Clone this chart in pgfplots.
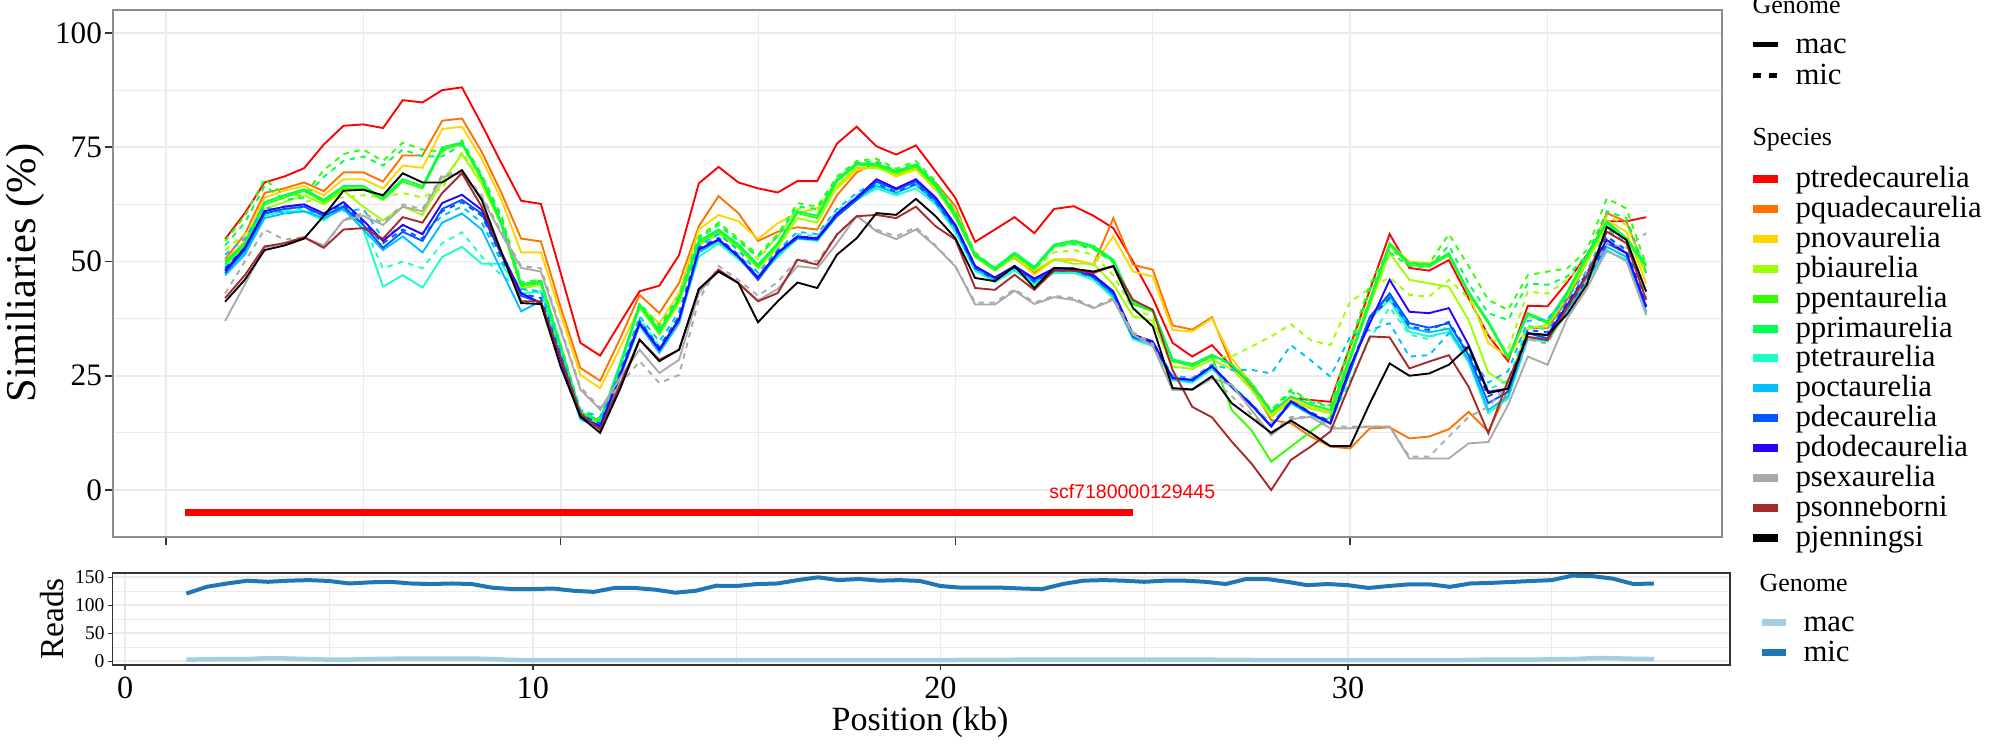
\documentclass[border=0pt]{standalone}
\usepackage{fontspec}
\setmainfont{Liberation Serif}
\newfontfamily\sansf{Liberation Sans}
\usepackage{pgfplots}
\usepackage{pgfplotstable}
\pgfplotsset{compat=1.18}

\definecolor{ctre}{HTML}{FF0000}
\definecolor{cqua}{HTML}{FF7200}
\definecolor{cnov}{HTML}{FFD500}
\definecolor{cbia}{HTML}{9EFF00}
\definecolor{cpen}{HTML}{33FF00}
\definecolor{cpri}{HTML}{00FF50}
\definecolor{ctet}{HTML}{1AFFC8}
\definecolor{coct}{HTML}{00C0FF}
\definecolor{cdec}{HTML}{0055FF}
\definecolor{cdod}{HTML}{2A00FF}
\definecolor{csex}{HTML}{AAAAAA}
\definecolor{cson}{HTML}{A52A2A}
\definecolor{cjen}{HTML}{000000}
\definecolor{macc}{HTML}{A6CEE3}
\definecolor{micc}{HTML}{1F78B4}
\definecolor{gridc}{HTML}{EBEBEB}
\definecolor{bordc}{HTML}{8C8C8C}

% similarity (%) per species, one row per species, one column per position (kb)
\pgfplotstableread[row sep=\\]{
sp 1.5 2.0 2.5 3.0 3.5 4.0 4.5 5.0 5.5 6.0 6.5 7.0 7.5 8.0 8.5 9.0 9.5 10.0 10.5 11.0 11.5 12.0 12.5 13.0
 13.5 14.0 14.5 15.0 15.5 16.0 16.5 17.0 17.5 18.0 18.5 19.0 19.5 20.0 20.5 21.0 21.5 22.0 22.5 23.0 23.5 24.0 24.5 25.0
 25.5 26.0 26.5 27.0 27.5 28.0 28.5 29.0 29.5 30.0 30.5 31.0 31.5 32.0 32.5 33.0 33.5 34.0 34.5 35.0 35.5 36.0 36.5 37.0 37.5 \\
tre 54.9 60.6 67.3 68.6 70.4 75.6 79.7 80.0 79.2 85.3 84.8 87.5 88.1 80.0 71.5 63.3 62.6 47.5 32.2 29.4 36.5 43.5 44.7 51.4
 67.1 70.7 67.3 66.0 65.1 67.6 67.6 75.8 79.5 75.2 73.4 75.4 69.7 63.9 54.3 57.0 59.7 56.2 61.5 62.1 60.0 57.3 50.0 42.0
 32.2 29.2 31.7 27.0 23.3 17.1 20.1 19.7 19.3 31.5 43.8 56.0 48.6 48.0 50.3 42.0 33.8 28.2 40.3 40.2 45.5 51.5 58.8 58.8 59.7 \\
qua 50.5 56.0 65.0 66.0 67.3 65.4 69.5 69.5 67.5 73.2 73.2 80.8 81.3 74.0 65.0 55.0 54.4 40.0 26.7 23.9 33.0 42.7 38.7 45.3
 57.7 64.3 60.6 54.5 56.5 57.5 57.0 64.5 69.5 71.6 69.0 70.7 67.2 62.1 51.1 48.6 50.8 47.5 50.4 50.4 49.3 59.5 49.3 48.2
 36.0 35.1 37.8 27.5 22.6 15.3 14.6 11.7 9.5 9.1 13.5 13.7 11.3 11.7 13.3 17.1 12.8 22.0 35.4 35.4 41.6 50.0 60.6 58.7 47.5 \\
nov 50.0 54.5 64.0 65.5 66.5 64.5 68.0 68.0 66.0 71.0 70.5 79.0 79.5 72.5 63.5 52.0 52.0 38.5 25.2 22.3 31.0 40.2 36.5 43.1
 57.0 60.2 58.8 54.9 58.4 60.6 61.7 66.0 70.0 70.8 68.6 70.1 65.7 61.3 51.5 48.4 51.1 47.1 50.4 50.4 49.3 55.5 47.8 46.7
 35.0 34.7 37.5 28.8 23.3 16.4 20.0 18.2 17.1 30.0 42.0 54.0 50.0 49.6 51.6 43.0 32.1 29.2 35.4 36.1 43.0 50.5 59.0 56.5 45.2 \\
bia 49.0 53.0 61.5 63.0 64.5 62.5 65.5 62.0 59.0 62.0 60.2 67.5 73.5 67.0 58.0 44.0 45.0 31.0 16.5 14.7 27.0 40.0 34.0 41.0
 53.5 56.0 53.0 48.5 53.0 59.5 58.5 66.5 70.5 70.5 69.0 70.5 66.0 59.5 51.0 48.0 51.0 48.0 50.5 49.5 49.5 45.0 38.0 37.0
 27.0 26.5 28.5 26.5 22.0 16.0 19.5 17.8 16.8 29.0 40.5 51.8 46.0 45.2 44.5 37.2 25.7 23.0 35.4 36.1 42.5 50.0 57.5 55.0 47.5 \\
pen 49.5 53.5 62.5 64.0 65.5 63.0 66.0 66.0 63.5 67.5 66.0 74.5 75.7 68.0 58.0 44.6 45.3 31.0 16.5 14.7 27.0 40.2 34.4 41.6
 54.0 56.6 53.3 48.9 53.7 60.6 59.5 67.5 71.2 71.0 69.4 70.8 66.4 59.9 51.1 48.2 51.5 48.4 53.3 54.2 53.0 50.1 40.6 39.1
 28.2 27.1 29.2 17.5 13.1 6.2 9.5 12.8 16.0 28.5 41.0 53.6 49.2 48.9 51.4 43.0 36.5 28.8 38.3 36.5 43.0 51.0 58.4 54.7 48.9 \\
pri 50.0 54.0 63.0 64.5 65.8 63.5 66.5 66.5 64.0 68.0 66.5 75.0 76.0 68.5 58.5 45.0 45.8 31.5 17.0 15.2 27.5 40.6 34.8 42.0
 54.5 57.0 53.8 49.3 54.0 61.0 60.0 68.0 71.5 71.3 69.8 71.2 66.8 60.3 51.5 48.6 51.9 48.8 53.7 54.6 53.4 50.4 41.0 39.5
 28.6 27.5 29.6 27.5 23.0 17.0 20.5 18.7 17.5 29.0 41.5 54.0 49.6 49.3 51.8 43.4 36.9 29.2 38.7 36.9 43.4 51.4 58.8 55.1 49.3 \\
tet 48.0 52.0 60.0 61.0 61.0 59.0 62.0 57.0 44.5 47.0 44.3 51.0 53.2 49.5 49.5 43.0 43.5 29.5 16.0 14.0 25.0 37.0 31.0 37.5
 51.0 54.0 50.5 46.5 51.0 55.0 54.5 60.0 63.5 66.0 64.5 66.0 62.5 56.5 48.0 45.5 48.0 45.0 47.5 47.5 46.0 42.0 33.0 31.5
 24.0 23.5 26.5 22.5 18.5 14.0 19.0 16.5 14.5 26.0 37.5 41.6 34.6 33.6 34.6 28.0 16.8 20.0 33.0 32.5 39.0 45.5 52.2 50.5 38.7 \\
oct 47.0 51.5 59.5 60.5 61.0 59.5 61.5 57.0 52.5 55.5 52.0 58.5 60.5 57.0 48.0 39.1 41.3 28.5 15.5 13.5 24.5 36.0 30.0 36.5
 52.0 54.5 51.0 46.0 51.5 55.5 55.0 60.5 64.0 66.5 65.0 66.8 63.0 57.2 48.5 46.0 48.8 45.5 48.0 48.0 46.5 42.5 33.3 32.0
 24.3 23.8 27.0 22.5 18.5 14.0 19.0 16.5 14.5 26.5 38.0 42.5 35.5 34.5 35.3 28.5 17.5 20.5 33.5 33.0 39.5 46.0 53.2 51.0 39.0 \\
dec 47.5 52.5 60.5 61.5 62.0 60.0 62.0 58.0 53.0 56.5 54.5 61.5 63.5 60.5 51.5 42.5 41.0 29.0 16.0 14.0 25.0 36.5 30.7 37.3
 52.6 54.8 51.1 46.0 51.9 55.1 54.8 59.9 63.5 67.5 65.7 67.5 63.5 57.7 48.9 46.4 49.0 46.0 48.2 48.2 46.7 43.1 33.6 32.2
 24.5 24.1 27.1 22.7 18.7 13.9 19.4 16.8 14.6 26.0 37.9 43.0 36.5 35.5 36.5 29.5 19.0 21.5 34.3 33.2 40.0 46.0 54.0 51.8 40.0 \\
dod 48.0 53.0 61.0 62.0 62.5 60.5 63.0 59.0 54.5 58.0 56.0 62.8 64.6 61.3 52.0 43.1 40.9 28.5 16.1 13.9 25.0 36.5 30.7 37.3
 52.6 54.8 51.1 46.5 51.9 55.5 55.0 60.5 64.0 68.0 66.0 68.0 64.0 58.0 49.0 46.5 49.0 46.3 48.5 48.5 47.0 43.5 34.0 32.5
 24.5 24.1 27.1 22.7 18.7 13.9 19.4 16.8 14.6 27.0 36.5 46.0 39.0 38.7 39.8 31.7 21.5 22.2 34.3 33.9 40.5 47.0 54.7 51.8 40.1 \\
sex 37.0 45.0 53.0 54.0 55.3 53.5 59.0 60.0 58.0 62.0 61.0 68.5 69.3 64.0 56.0 48.6 47.8 35.0 22.0 17.6 24.5 30.7 25.6 28.5
 43.1 48.2 45.3 41.5 44.0 49.0 48.5 54.0 60.0 56.6 54.9 57.0 53.3 48.9 40.6 40.6 43.6 40.7 42.2 41.6 39.8 41.6 34.0 31.5
 21.9 21.9 24.4 23.0 17.5 12.0 15.5 16.0 13.5 13.5 13.9 13.9 6.9 6.9 6.9 10.2 10.5 18.6 29.2 27.4 37.6 44.1 52.5 50.0 38.3 \\
son 42.0 47.0 53.3 54.0 55.3 53.0 57.0 57.3 55.0 59.7 58.5 65.0 69.3 62.0 52.0 41.3 41.3 29.0 16.8 13.2 23.0 32.9 28.5 30.7
 43.8 48.2 45.3 41.3 43.1 50.4 49.3 55.9 59.9 60.2 59.5 62.0 57.7 54.8 44.2 43.8 47.1 43.8 48.0 48.0 47.5 49.0 41.6 39.4
 26.3 18.2 15.9 10.6 5.8 0.0 6.6 9.5 12.8 23.3 33.6 33.4 26.6 28.1 29.5 22.6 12.4 24.0 33.5 32.8 40.0 47.0 56.5 54.0 41.6 \\
jen 41.2 46.0 52.5 53.5 55.0 60.0 65.5 65.7 64.5 69.3 67.3 67.3 70.0 63.5 52.0 40.9 40.7 27.0 16.1 12.5 22.0 32.9 28.2 30.7
 44.0 47.8 45.3 36.7 41.3 45.4 44.2 51.5 55.1 60.6 60.2 63.7 59.9 55.1 46.4 45.7 49.0 44.2 48.6 48.4 47.8 49.0 39.8 35.8
 22.3 22.0 24.9 19.0 15.8 12.5 15.2 12.5 9.6 9.6 19.0 27.7 25.0 25.5 27.4 31.4 21.2 22.2 34.3 33.9 38.5 45.0 57.6 54.7 43.4 \\
}\macraw

\pgfplotstableread[row sep=\\]{
sp 1.5 2.0 2.5 3.0 3.5 4.0 4.5 5.0 5.5 6.0 6.5 7.0 7.5 8.0 8.5 9.0 9.5 10.0 10.5 11.0 11.5 12.0 12.5 13.0
 13.5 14.0 14.5 15.0 15.5 16.0 16.5 17.0 17.5 18.0 18.5 19.0 19.5 20.0 20.5 21.0 21.5 22.0 22.5 23.0 23.5 24.0 24.5 25.0
 25.5 26.0 26.5 27.0 27.5 28.0 28.5 29.0 29.5 30.0 30.5 31.0 31.5 32.0 32.5 33.0 33.5 34.0 34.5 35.0 35.5 36.0 36.5 37.0 37.5 \\
bia 52.5 56.0 61.0 61.0 63.0 64.0 64.0 64.5 64.0 65.0 64.0 66.0 74.0 67.5 58.5 45.0 45.5 31.5 17.0 15.0 27.0 40.5 35.0 42.0
 55.0 58.5 55.0 50.5 55.5 61.5 61.0 68.0 71.5 71.5 69.5 71.0 66.5 60.0 51.5 48.2 51.5 48.5 52.0 52.5 51.5 47.0 39.5 38.0
 28.0 27.7 29.0 29.2 31.4 33.6 36.3 32.8 31.7 41.2 44.1 46.5 42.7 42.3 46.0 42.0 33.6 30.6 43.4 43.0 46.0 50.5 60.0 58.0 48.0 \\
pen 54.5 60.0 68.0 64.5 64.5 70.0 73.5 74.5 72.0 76.0 74.5 74.0 76.5 69.0 60.0 45.5 46.0 32.0 17.5 15.5 27.0 41.0 36.0 42.5
 55.5 58.5 55.0 51.5 56.0 62.8 62.0 68.6 72.0 72.5 70.3 72.0 67.5 61.0 52.0 48.5 52.0 48.6 53.5 54.0 53.0 50.0 41.0 39.5
 28.5 27.5 29.5 27.5 23.5 17.5 22.0 19.5 18.5 32.0 45.0 52.8 49.8 49.5 56.0 49.0 41.6 39.4 47.0 47.8 48.5 52.5 63.8 61.6 49.2 \\
pri 53.5 58.5 66.5 63.5 64.0 68.5 72.0 73.0 71.0 74.5 73.0 73.0 75.5 68.5 59.5 45.0 45.5 31.5 17.0 15.0 27.0 40.5 35.5 42.0
 55.0 58.0 54.5 51.0 55.5 62.0 61.5 68.0 71.5 72.0 69.8 71.5 67.0 60.5 51.5 48.2 51.6 48.3 53.2 53.8 52.7 49.8 40.8 39.3
 28.3 27.3 29.3 27.3 23.2 17.2 21.5 19.2 18.2 31.0 44.0 52.0 49.0 48.7 53.5 45.2 38.7 37.2 45.2 44.9 46.7 51.5 61.0 59.5 47.5 \\
tet 49.0 53.0 60.5 61.5 61.5 60.0 62.5 58.0 48.5 50.0 48.5 54.0 56.4 51.1 47.0 44.0 43.0 30.0 16.5 14.5 25.5 37.5 31.5 38.0
 52.0 55.0 51.5 47.0 51.5 56.0 55.5 61.0 64.5 67.0 65.0 66.8 63.0 57.0 48.5 46.0 48.5 45.5 48.0 48.0 46.5 42.5 33.5 32.0
 24.5 24.0 27.0 23.0 19.0 14.5 19.5 17.0 15.0 24.0 33.0 40.0 34.0 33.0 36.0 30.0 22.0 24.0 36.0 35.0 41.0 47.0 55.0 52.5 41.0 \\
oct 51.5 55.0 62.0 60.5 61.0 60.5 61.0 61.5 55.0 58.0 56.0 60.0 62.0 58.5 50.0 44.0 43.5 30.5 17.5 16.0 26.0 38.0 32.5 39.0
 53.5 56.0 52.5 47.5 52.5 56.5 56.0 61.5 65.0 67.5 66.0 67.5 64.0 58.0 49.0 46.5 49.0 46.0 48.5 48.5 47.0 43.0 34.0 32.5
 25.0 24.5 27.5 26.3 26.3 25.5 31.7 28.4 24.8 33.6 35.0 36.5 29.2 29.5 34.3 30.0 23.5 26.0 37.0 37.5 42.0 48.0 57.0 54.0 42.0 \\
dec 48.5 53.0 61.0 62.0 62.5 60.5 62.5 58.5 54.0 57.0 55.0 61.0 63.0 60.0 51.0 43.0 42.0 29.5 16.5 14.5 25.5 37.0 31.2 38.0
 53.0 55.2 51.5 46.5 52.3 55.5 55.2 60.3 64.0 67.0 65.2 67.0 63.0 57.3 48.5 46.0 48.6 45.6 48.0 48.0 46.5 43.0 33.5 32.0
 24.5 24.0 27.0 22.5 18.5 14.0 19.5 17.0 15.0 27.0 37.5 42.0 35.8 35.0 36.8 30.0 20.5 22.5 35.0 34.5 41.0 47.5 55.5 52.5 40.5 \\
sex 43.0 50.0 57.0 54.8 55.3 53.0 59.2 60.6 58.5 62.5 61.5 69.0 69.5 64.5 56.5 49.0 48.5 35.5 22.5 18.0 23.0 28.2 23.4 25.2
 41.6 49.0 46.0 42.5 45.5 50.5 50.0 56.0 60.0 57.0 55.5 57.5 53.5 49.0 41.0 41.0 44.0 41.0 42.5 42.0 40.0 42.0 34.5 32.0
 22.0 22.0 24.5 20.5 16.5 12.5 16.0 16.0 13.9 13.9 13.9 13.9 7.3 7.3 11.7 16.0 18.2 23.0 33.0 32.0 40.0 46.0 54.0 53.0 56.2 \\
}\micraw

% reads per position
\pgfplotstableread[row sep=\\]{
sp 1.5 2.0 2.5 3.0 3.5 4.0 4.5 5.0 5.5 6.0 6.5 7.0 7.5 8.0 8.5 9.0 9.5 10.0 10.5 11.0 11.5 12.0 12.5 13.0
 13.5 14.0 14.5 15.0 15.5 16.0 16.5 17.0 17.5 18.0 18.5 19.0 19.5 20.0 20.5 21.0 21.5 22.0 22.5 23.0 23.5 24.0 24.5 25.0
 25.5 26.0 26.5 27.0 27.5 28.0 28.5 29.0 29.5 30.0 30.5 31.0 31.5 32.0 32.5 33.0 33.5 34.0 34.5 35.0 35.5 36.0 36.5 37.0 37.5 \\
mac 3 3.5 4 4 5.5 5 4 3 3 4 4.5 5 5 5 5 4 2.5 2 2 2 2 2 2 2
 2 2 2 2 2 2 2 2 2 2 2 2 2 2 2.5 2.5 2.5 3 3 3 3 3 3 3
 3 3 3 2.5 2.5 2 2 2 2 2 2 2 2 2 2 2.5 3 3 3 3.5 4 5.5 5.5 4.5 4 \\
mic 121 133 139 144 142 144 145 143.5 139 141 142 139 138 139 138 131.5 129 129 130 126 124 131 131 128
 122.6 126 135 134.5 138 139 145 150 145 147 144 145 143.5 134.5 131.5 131.5 131.5 130 129 138 144 145 144 142
 144 144 142 138 147 147 142 136 138 136 131 134.5 137.5 137.5 133 139 140 141.7 143.5 145 153 152 147.6 138 139 \\
}\readsraw

\pgfplotstabletranspose[colnames from=sp,input colnames to=kb]{\mac}{\macraw}
\pgfplotstabletranspose[colnames from=sp,input colnames to=kb]{\mic}{\micraw}
\pgfplotstabletranspose[colnames from=sp,input colnames to=kb]{\reads}{\readsraw}

\pgfplotsset{
  ggpanel/.style={
    scale only axis, anchor=north west,
    grid=both,
    major grid style={draw=gridc, line width=0.7pt},
    minor grid style={draw=gridc, line width=0.35pt},
    tick align=outside, tick pos=left,
    major tick length=3pt, minor tick length=0pt,
    tick style={draw=black!80, line width=0.6pt},
    /pgf/number format/assume math mode=true,
    every axis plot/.append style={no marks},
  },
  mac/.style={line width=0.75pt},
  mic/.style={line width=0.75pt, dash pattern=on 2.2pt off 2.2pt},
}

\begin{document}
\begin{tikzpicture}
\path[use as bounding box] (0,0) rectangle (800pt,-300pt);

\begin{axis}[ggpanel,
  at={(45.2pt,-4pt)}, width=643.6pt, height=210.8pt,
  xmin=-1.34, xmax=39.42, ymin=-10.28, ymax=105.03,
  xtick={0,10,20,30}, minor xtick={5,15,25,35}, xticklabel=\empty,
  ytick={0,25,50,75,100}, minor ytick={12.5,37.5,62.5,87.5},
  axis line style={draw=bordc, line width=0.6pt},
  yticklabel style={font=\fontsize{12.5}{12.5}\selectfont, anchor=east, inner sep=0pt, xshift=-1.2pt},
]
\addplot[mac, ctre] table[x=kb, y=tre] {\mac};
\addplot[mac, cqua] table[x=kb, y=qua] {\mac};
\addplot[mac, cnov] table[x=kb, y=nov] {\mac};
\addplot[mac, cbia] table[x=kb, y=bia] {\mac};
\addplot[mic, cbia] table[x=kb, y=bia] {\mic};
\addplot[mac, cpen] table[x=kb, y=pen] {\mac};
\addplot[mic, cpen] table[x=kb, y=pen] {\mic};
\addplot[mac, cpri] table[x=kb, y=pri] {\mac};
\addplot[mic, cpri] table[x=kb, y=pri] {\mic};
\addplot[mac, ctet] table[x=kb, y=tet] {\mac};
\addplot[mic, ctet] table[x=kb, y=tet] {\mic};
\addplot[mac, coct] table[x=kb, y=oct] {\mac};
\addplot[mic, coct] table[x=kb, y=oct] {\mic};
\addplot[mac, cdec] table[x=kb, y=dec] {\mac};
\addplot[mic, cdec] table[x=kb, y=dec] {\mic};
\addplot[mac, cdod] table[x=kb, y=dod] {\mac};
\addplot[mac, csex] table[x=kb, y=sex] {\mac};
\addplot[mic, csex] table[x=kb, y=sex] {\mic};
\addplot[mac, cson] table[x=kb, y=son] {\mac};
\addplot[mac, cjen] table[x=kb, y=jen] {\mac};
% contig extent
\addplot[draw=red, line width=2.8pt] coordinates {(0.48,-5) (24.5,-5)};
\node[font=\sansf\fontsize{7.8}{7.8}\selectfont, text=red, inner sep=0pt] at (axis cs:24.48,-0.4) {scf7180000129445};
\end{axis}

\begin{axis}[ggpanel,
  at={(45pt,-229.2pt)}, width=647pt, height=36.8pt,
  xmin=-0.31, xmax=39.37, ymin=-6.6, ymax=157.7,
  xtick={0,10,20,30}, minor xtick={5,15,25,35},
  ytick={0,50,100,150}, minor ytick={25,75,125},
  major tick length=2pt,
  axis line style={draw=black!80, line width=0.6pt},
  xticklabel style={font=\fontsize{12.9}{12.9}\selectfont, anchor=north, inner sep=0pt, yshift=-2.8pt},
  yticklabel style={font=\fontsize{7.8}{7.8}\selectfont, anchor=east, inner sep=0pt, xshift=-1pt},
]
\addplot[macc, line width=1.8pt] table[x=kb, y=mac] {\reads};
\addplot[micc, line width=1.6pt] table[x=kb, y=mic] {\reads};
\end{axis}

% axis titles
\node[rotate=90, font=\fontsize{17}{17}\selectfont] at (10pt,-109.2pt) {Similiaries (\%)};
\node[rotate=90, font=\fontsize{13.4}{13.4}\selectfont] at (21pt,-247.6pt) {Reads};
\node[font=\fontsize{13.6}{13.6}\selectfont] at (368pt,-288.8pt) {Position (kb)};

% legend: genome (line type)
\node[anchor=base west, inner sep=0pt, font=\fontsize{10.4}{10.4}\selectfont] at (700.8pt,-5.2pt) {Genome};
\draw[line width=2pt] (701.2pt,-17.6pt) -- (711.2pt,-17.6pt);
\draw[line width=2pt] (701.2pt,-30pt) -- (704.2pt,-30pt);
\draw[line width=2pt] (707.6pt,-30pt) -- (710.6pt,-30pt);
\node[anchor=base west, inner sep=0pt, font=\fontsize{12.3}{12.3}\selectfont] at (718pt,-21.2pt) {mac};
\node[anchor=base west, inner sep=0pt, font=\fontsize{12.3}{12.3}\selectfont] at (718pt,-33.6pt) {mic};

% legend: species
\node[anchor=base west, inner sep=0pt, font=\fontsize{10.4}{10.4}\selectfont] at (700.8pt,-58pt) {Species};
\foreach \c/\n [count=\i from 0] in {ctre/ptredecaurelia, cqua/pquadecaurelia, cnov/pnovaurelia,
    cbia/pbiaurelia, cpen/ppentaurelia, cpri/pprimaurelia, ctet/ptetraurelia, coct/poctaurelia,
    cdec/pdecaurelia, cdod/pdodecaurelia, csex/psexaurelia, cson/psonneborni, cjen/pjenningsi} {
  \pgfmathsetmacro\yk{-(179+29.9*\i)*0.4}
  \fill[\c] (701.2pt,\yk pt+1.6pt) rectangle (711.2pt,\yk pt-1.6pt);
  \node[anchor=base west, inner sep=0pt, font=\fontsize{12.3}{12.3}\selectfont] at (718pt,\yk pt-3.4pt) {\n};
}

% legend: reads genome
\node[anchor=base west, inner sep=0pt, font=\fontsize{10.4}{10.4}\selectfont] at (703.6pt,-236.4pt) {Genome};
\fill[macc] (704.8pt,-247.4pt) rectangle (714.4pt,-250.2pt);
\fill[micc] (704.8pt,-259.4pt) rectangle (714.4pt,-262.2pt);
\node[anchor=base west, inner sep=0pt, font=\fontsize{12.3}{12.3}\selectfont] at (721.2pt,-252.4pt) {mac};
\node[anchor=base west, inner sep=0pt, font=\fontsize{12.3}{12.3}\selectfont] at (721.2pt,-264.4pt) {mic};
\end{tikzpicture}
\end{document}
